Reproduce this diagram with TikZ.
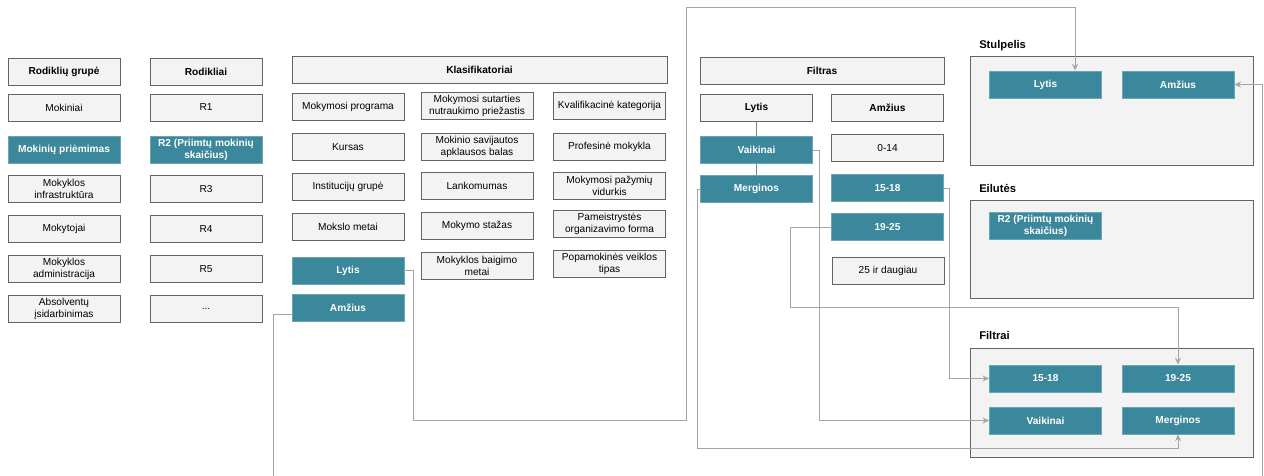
\documentclass[tikz,border=0pt]{standalone}
\usepackage{fontspec}
\setmainfont{Liberation Sans}
\usetikzlibrary{arrows.meta}

\definecolor{tealc}{RGB}{59,135,155}
\definecolor{boxfill}{RGB}{243,243,243}
\definecolor{boxline}{RGB}{100,100,100}
\definecolor{linkc}{RGB}{165,165,165}

\begin{document}
\begin{tikzpicture}[x=0.75pt,y=-0.75pt,
    box/.style={draw=boxline,fill=boxfill,line width=0.5pt,minimum width=84pt,minimum height=20.5pt,
        inner sep=1pt,align=center,font=\fontsize{7.6}{8.8}\selectfont},
    head/.style={box,font=\fontsize{7.6}{8.8}\selectfont\bfseries},
    sel/.style={box,draw=tealc!75!white,fill=tealc,text=white,font=\fontsize{7.6}{8.8}\selectfont\bfseries},
    panel/.style={draw=boxline,fill=boxfill,line width=0.6pt},
    lbl/.style={anchor=west,inner sep=0pt,font=\fontsize{8.4}{10}\selectfont\bfseries},
    conn/.style={draw=linkc,line width=0.6pt,-{Stealth[length=5pt,width=4.5pt]}}]
    \useasboundingbox (0,0) rectangle (1264,475);
    \clip (0,0) rectangle (1264,475);
    % rodikliu grupe
    \node[head] (g0) at (64,71.5) {Rodiklių grupė};
    \node[box]  (g1) at (64,107.5) {Mokiniai};
    \node[sel]  (g2) at (64,150) {Mokinių priėmimas};
    \node[box]  (g3) at (64,189) {Mokyklos\\infrastruktūra};
    \node[box]  (g4) at (64,229) {Mokytojai};
    \node[box]  (g5) at (64,269) {Mokyklos\\administracija};
    \node[box]  (g6) at (64,309) {Absolventų\\įsidarbinimas};
    % rodikliai
    \node[head] (r0) at (206,71.5) {Rodikliai};
    \node[box]  (r1) at (206,107.5) {R1};
    \node[sel]  (r2) at (206,150) {R2 (Priimtų mokinių\\skaičius)};
    \node[box]  (r3) at (206,189) {R3};
    \node[box]  (r4) at (206,229) {R4};
    \node[box]  (r5) at (206,269) {R5};
    \node[box]  (r6) at (206,309) {...};
    % klasifikatoriai
    \node[head,minimum width=281pt] (k0) at (479.5,70) {Klasifikatoriai};
    \node[box] (kProg) at (348,107) {Mokymosi programa};
    \node[box] (kKur)  at (348,147) {Kursas};
    \node[box] (kInst) at (348,187) {Institucijų grupė};
    \node[box] (kMet)  at (348,227) {Mokslo metai};
    \node[sel] (kLyt)  at (348,270.5) {Lytis};
    \node[sel] (kAmz)  at (348,307.5) {Amžius};
    \node[box] (kSut)  at (477,106) {Mokymosi sutarties\\nutraukimo priežastis};
    \node[box] (kSav)  at (477,147) {Mokinio savijautos\\apklausos balas};
    \node[box] (kLan)  at (477,186) {Lankomumas};
    \node[box] (kSta)  at (477,226) {Mokymo stažas};
    \node[box] (kBai)  at (477,266) {Mokyklos baigimo\\metai};
    \node[box] (kKva)  at (609.5,106) {Kvalifikacinė kategorija};
    \node[box] (kPro)  at (609.5,147) {Profesinė mokykla};
    \node[box] (kVid)  at (609.5,186) {Mokymosi pažymių\\vidurkis};
    \node[box] (kPam)  at (609.5,224) {Pameistrystės\\organizavimo forma};
    \node[box] (kPop)  at (609.5,264) {Popamokinės veiklos\\tipas};
    % filtras
    \node[head,minimum width=183pt] (f0) at (822,71) {Filtras};
    \node[head] (fLyt)  at (756.5,108) {Lytis};
    \node[head] (fAmz)  at (887.5,108) {Amžius};
    \node[sel]  (fVai)  at (756.5,150) {Vaikinai};
    \node[sel]  (fMer)  at (756.5,189) {Merginos};
    \node[box]  (f014)  at (887.5,148) {0-14};
    \node[sel]  (f1518) at (887.5,188) {15-18};
    \node[sel]  (f1925) at (887.5,227) {19-25};
    \node[box]  (f25)   at (888,271) {25 ir daugiau};
    \draw[tealc!70!linkc,line width=0.8pt] (fLyt.south) -- (fVai.north) (fVai.south) -- (fMer.north);
    % stulpelis, eilutes, filtrai
    \draw[panel] (970,56) rectangle (1253,165);
    \node[lbl] (lStu) at (979,46) {Stulpelis};
    \node[sel] (sLyt) at (1045.5,84.5) {Lytis};
    \node[sel] (sAmz) at (1178,84.5) {Amžius};
    \draw[panel] (970,200) rectangle (1253,298);
    \node[lbl] (lEil) at (979,188) {Eilutės};
    \node[sel] (eR2) at (1045.5,226) {R2 (Priimtų mokinių\\skaičius)};
    \draw[panel] (970,348) rectangle (1253,457);
    \node[lbl] (lFil) at (979,335) {Filtrai};
    \node[sel] (fi1518) at (1045.5,378.5) {15-18};
    \node[sel] (fi1925) at (1178,378.5) {19-25};
    \node[sel] (fiVai)  at (1045.5,420.5) {Vaikinai};
    \node[sel] (fiMer)  at (1178,420.5) {Merginos};
    % connectors
    \coordinate (a1) at (413,420);
    \coordinate (a2) at (686,7);
    \coordinate (a3) at (1075,7);
    \draw[conn] (kLyt.east) -| (a1) -| (a2) -| (a3) -- (a3 |- sLyt.north);
    \coordinate (b1) at (273,490);
    \coordinate (b2) at (1262,490);
    \draw[conn] ([yshift=-5pt]kAmz.west) -| (b1) -| (b2) |- (sAmz.east);
    \draw[conn] (fVai.east) -- ++(7,0) |- (fiVai.west);
    \coordinate (d1) at (697,448);
    \draw[conn] (fMer.west) -| (d1) -| (fiMer.south);
    \draw[conn] (f1518.east) -- ++(6,0) |- (fi1518.west);
    \coordinate (e1) at (790,307);
    \draw[conn] (f1925.west) -| (e1) -| (fi1925.north);
\end{tikzpicture}
\end{document}
